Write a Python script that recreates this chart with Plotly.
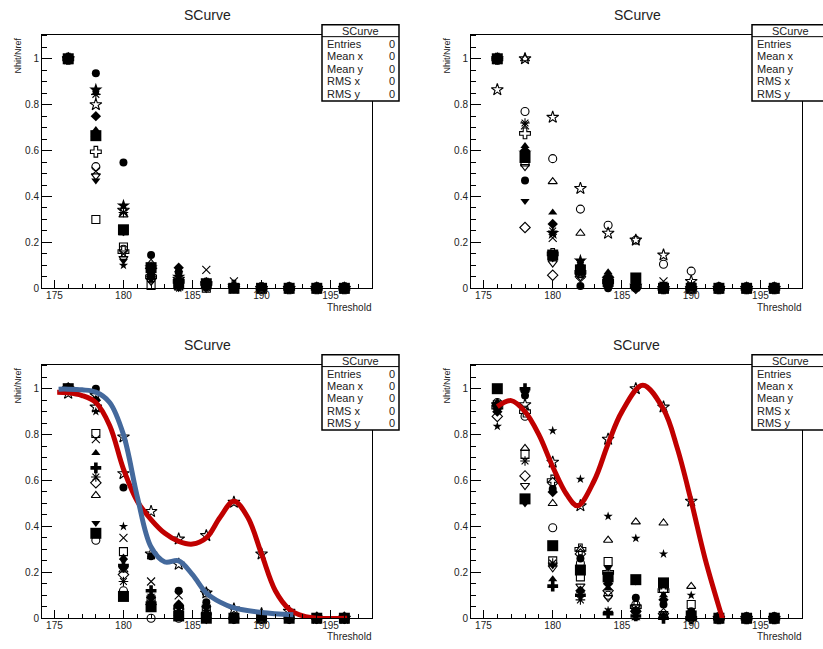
import plotly.graph_objects as go

W, H = 823, 649

THRESHOLDS = [176, 178, 180, 182, 184, 186, 188, 190, 192, 194, 196]
X_TICKS = [175, 180, 185, 190, 195]
X_TICK_TEXT = ["175", "180", "185", "190", "195"]
Y_TICKS = [0, 0.2, 0.4, 0.6, 0.8, 1.0]
Y_TICK_TEXT = ["0", "0.2", "0.4", "0.6", "0.8", "1"]
PLOT_TITLE = "SCurve"
X_TITLE = "Threshold"
Y_TITLE = "Nhit/Nref"
STAT_LABELS = ["Entries", "Mean x", "Mean y", "RMS x", "RMS y"]
STAT_VALUES = ["0", "0", "0", "0", "0"]

# ---- panel 1 (top left) : (marker, values at THRESHOLDS)
P1_SERIES = [
    ("circle",             [1, 0.937, 0.548, 0.145, 0.07, 0.02, 0.01, 0, 0, 0, 0]),
    ("star",               [1, 0.865, 0.36, 0.09, 0.05, 0.01, 0, 0, 0, 0, 0]),
    ("asterisk-open",      [1, 0.845, 0.33, 0.06, 0.03, 0.01, 0, 0, 0, 0, 0]),
    ("star-open",          [1, 0.80, 0.34, 0.08, 0.04, 0.02, 0.01, 0, 0, 0, 0]),
    ("diamond",            [1, 0.75, 0.25, 0.05, 0.09, 0.01, 0, 0, 0, 0, 0]),
    ("triangle-up",        [1, 0.69, 0.24, 0.07, 0.08, 0.03, 0, 0, 0, 0, 0]),
    ("triangle-up-open",   [1, 0.67, 0.32, 0.11, 0.02, 0.01, 0, 0, 0, 0, 0]),
    ("cross-open",         [1, 0.595, 0.16, 0.05, 0.03, 0.02, 0.01, 0, 0, 0, 0]),
    ("circle-open",        [1, 0.53, 0.17, 0.04, 0.02, 0.01, 0, 0, 0, 0, 0]),
    ("x-thin-open",        [1, 0.51, 0.15, 0.06, 0.01, 0.08, 0.03, 0, 0, 0, 0]),
    ("triangle-down-open", [1, 0.49, 0.13, 0.03, 0.01, 0, 0, 0, 0, 0, 0]),
    ("triangle-down",      [1, 0.47, 0.12, 0.05, 0, 0.01, 0, 0, 0, 0, 0]),
    ("square-open",        [1, 0.30, 0.18, 0.012, 0.01, 0, 0, 0, 0, 0, 0]),
    ("star-small",         [1, 0.86, 0.10, 0.04, 0, 0, 0, 0, 0, 0, 0]),
    ("square",             [1, 0.665, 0.255, 0.09, 0.02, 0.02, 0, 0, 0, 0, 0]),
]

# ---- panel 2 (top right)
P2_SERIES = [
    ("star-open",          [0.865, 1.0, 0.745, 0.435, 0.24, 0.21, 0.145, 0.03, 0, 0, 0]),
    ("triangle-up-open",   [1, 1.0, 0.465, 0.24, 0.06, 0.02, 0.01, 0, 0, 0, 0]),
    ("circle-open",        [1, 0.77, 0.565, 0.345, 0.275, 0.21, 0.105, 0.075, 0, 0, 0]),
    ("asterisk-open",      [1, 0.72, 0.25, 0.10, 0.04, 0.02, 0, 0, 0, 0, 0]),
    ("x-thin-open",        [1, 0.71, 0.22, 0.06, 0.02, 0.01, 0.03, 0.01, 0, 0, 0]),
    ("cross-open",         [1, 0.675, 0.15, 0.07, 0.03, 0.01, 0, 0, 0, 0, 0]),
    ("triangle-up",        [1, 0.62, 0.33, 0.10, 0.07, 0.03, 0.01, 0, 0, 0, 0]),
    ("diamond",            [1, 0.60, 0.28, 0.09, 0.05, 0.02, 0, 0, 0, 0, 0]),
    ("star",               [1, 0.59, 0.24, 0.12, 0.04, 0.01, 0, 0, 0, 0, 0]),
    ("square-open",        [1, 0.55, 0.14, 0.07, 0.02, 0.01, 0, 0, 0, 0, 0]),
    ("triangle-down-open", [1, 0.53, 0.11, 0.05, 0.01, 0, 0, 0, 0, 0, 0]),
    ("circle",             [1, 0.47, 0.15, 0.01, 0, 0, 0, 0, 0, 0, 0]),
    ("triangle-down",      [1, 0.38, 0.13, 0.115, 0, 0, 0.02, 0, 0, 0, 0]),
    ("diamond-open",       [1, 0.265, 0.057, 0.05, 0.02, 0, 0, 0, 0, 0, 0]),
    ("square",             [1, 0.57, 0.145, 0.08, 0.03, 0.045, 0, 0, 0, 0, 0]),
]

# ---- panel 3 (bottom left)
P3_SERIES = [
    ("star-open",          [0.98, 0.92, 0.63, 0.465, 0.345, 0.36, 0.505, 0.28, 0.03, 0, 0]),
    ("star-open",          [1.0, 0.97, 0.79, 0.28, 0.235, 0.11, 0.04, 0.02, 0.01, 0, 0]),
    ("circle",             [1, 1.0, 0.57, 0.27, 0.12, 0.07, 0, 0, 0, 0, 0]),
    ("square-open",        [1, 0.805, 0.29, 0.08, 0.03, 0.04, 0, 0, 0, 0, 0]),
    ("x-thin-open",        [1, 0.78, 0.35, 0.16, 0.10, 0.02, 0, 0, 0, 0, 0]),
    ("triangle-up",        [1, 0.72, 0.265, 0.06, 0.03, 0.01, 0, 0, 0, 0, 0]),
    ("cross",              [1, 0.655, 0.23, 0.12, 0.05, 0.02, 0, 0, 0, 0, 0]),
    ("asterisk-open",      [1, 0.615, 0.16, 0.05, 0.02, 0.01, 0, 0, 0, 0, 0]),
    ("diamond-open",       [1, 0.59, 0.19, 0.06, 0.04, 0, 0, 0, 0, 0, 0]),
    ("triangle-up-open",   [1, 0.535, 0.21, 0.04, 0.02, 0, 0, 0, 0, 0, 0]),
    ("triangle-down",      [1, 0.415, 0.25, 0.07, 0.01, 0, 0, 0, 0, 0, 0]),
    ("circle-open",        [1, 0.34, 0.12, 0, 0, 0.11, 0, 0, 0, 0, 0]),
    ("star-small",         [1, 0.90, 0.40, 0.10, 0.04, 0.03, 0, 0, 0, 0, 0]),
    ("diamond",            [1, 0.95, 0.22, 0.09, 0.06, 0.05, 0, 0, 0, 0, 0]),
    ("square",             [1, 0.37, 0.095, 0.05, 0.01, 0, 0, 0, 0, 0, 0]),
]
# fitted curves of panel 3 (knots)
P3_RED_X = [175.2, 176, 177, 178, 179, 180, 181, 182, 183, 184, 185, 186, 187, 188, 189, 190, 191, 192, 193, 194, 196.2]
P3_RED_Y = [0.984, 0.982, 0.97, 0.94, 0.84, 0.65, 0.51, 0.43, 0.37, 0.335, 0.323, 0.35, 0.44, 0.51, 0.44, 0.28, 0.12, 0.04, 0.01, 0.0, 0.0]
P3_BLUE_X = [175.3, 176, 177, 178, 179, 180, 181, 182, 183, 184, 185, 186, 187, 188, 190, 192.3]
P3_BLUE_Y = [0.998, 0.998, 0.995, 0.985, 0.94, 0.80, 0.53, 0.31, 0.245, 0.25, 0.19, 0.11, 0.07, 0.045, 0.025, 0.015]

# ---- panel 4 (bottom right)
P4_SERIES = [
    ("star-open",          [0.93, 0.93, 0.68, 0.49, 0.78, 1.0, 0.92, 0.51, 0, 0, 0]),
    ("star-small",         [0.836, 1.0, 0.817, 0.606, 0.444, 0.348, 0.28, 0.10, 0, 0, 0]),
    ("diamond-open",       [0.879, 0.62, 0.59, 0.28, 0.12, 0.03, 0.02, 0, 0, 0, 0]),
    ("cross",              [0.93, 1.0, 0.14, 0.10, 0.02, 0.01, 0, 0, 0, 0, 0]),
    ("circle",             [0.93, 0.97, 0.563, 0.26, 0.17, 0.089, 0.06, 0.03, 0, 0, 0]),
    ("circle-open",        [0.94, 0.88, 0.394, 0.24, 0.10, 0.06, 0.01, 0, 0, 0, 0]),
    ("triangle-up-open",   [0.93, 0.74, 0.50, 0.30, 0.34, 0.42, 0.415, 0.139, 0, 0, 0]),
    ("square-open",        [0.93, 0.714, 0.25, 0.18, 0.247, 0.04, 0.13, 0.06, 0, 0, 0]),
    ("asterisk-open",      [0.92, 0.685, 0.24, 0.08, 0.03, 0.01, 0.01, 0.01, 0, 0, 0]),
    ("triangle-down-open", [0.93, 0.578, 0.22, 0.14, 0.09, 0.05, 0.02, 0, 0, 0, 0]),
    ("triangle-down",      [0.93, 0.50, 0.23, 0.22, 0.22, 0.16, 0.01, 0.02, 0, 0, 0]),
    ("triangle-up",        [0.93, 0.99, 0.17, 0.12, 0.13, 0, 0.10, 0.02, 0, 0, 0]),
    ("cross-open",         [0.92, 0.90, 0.60, 0.30, 0.20, 0.05, 0.12, 0, 0, 0, 0]),
    ("diamond",            [0.90, 0.99, 0.55, 0.12, 0.15, 0.03, 0.08, 0.01, 0, 0, 0]),
    ("square",             [1.0, 0.52, 0.316, 0.21, 0.18, 0.168, 0.154, 0.01, 0, 0, 0]),
]
P4_RED_X = [176.0, 177.0, 178, 179, 180, 181, 181.8, 183, 184, 185, 186.5, 188, 189, 190, 191, 192.3]
P4_RED_Y = [0.922, 0.948, 0.90, 0.80, 0.66, 0.54, 0.49, 0.60, 0.76, 0.90, 1.015, 0.91, 0.74, 0.51, 0.26, -0.01]

RED = "#c00000"
BLUE = "#44699c"
FONT = "Liberation Sans"

# panel frames in pixels: (left, right, top, bottom)
FRAMES = [(42, 372, 35, 291), (471, 802, 35, 291), (42, 372, 368, 624), (471, 802, 368, 624)]
X_RANGE = [174.1, 198.0]
Y_RANGE = [0.0, 1.105]


def px(x):
    return x / W


def py(y):
    return 1 - y / H


SIZES = {"square": 11, "star-small": 7, "star": 10, "star-open": 9, "circle": 8,
         "circle-open": 8, "x-thin-open": 8, "asterisk-open": 8, "cross": 9, "cross-open": 9}

fig = go.Figure()

panels = [P1_SERIES, P2_SERIES, P3_SERIES, P4_SERIES]
for i, series in enumerate(panels):
    sfx = "" if i == 0 else str(i + 1)
    for sym, vals in series:
        real = "star" if sym == "star-small" else sym
        is_open = real.endswith("-open")
        fig.add_trace(go.Scatter(
            x=THRESHOLDS, y=vals, mode="markers",
            xaxis="x" + sfx, yaxis="y" + sfx, showlegend=False, cliponaxis=False,
            marker=dict(symbol=real, size=SIZES.get(sym, 8), color="black",
                        line=dict(color="black", width=1.1 if is_open else 0)),
        ))

fig.add_trace(go.Scatter(x=P3_RED_X, y=P3_RED_Y, mode="lines", xaxis="x3", yaxis="y3",
                         line=dict(color=RED, width=5, shape="spline", smoothing=1.0),
                         showlegend=False))
fig.add_trace(go.Scatter(x=P3_BLUE_X, y=P3_BLUE_Y, mode="lines", xaxis="x3", yaxis="y3",
                         line=dict(color=BLUE, width=5, shape="spline", smoothing=1.0),
                         showlegend=False))
fig.add_trace(go.Scatter(x=P4_RED_X, y=P4_RED_Y, mode="lines", xaxis="x4", yaxis="y4",
                         line=dict(color=RED, width=5, shape="spline", smoothing=1.0),
                         showlegend=False))

layout = dict(width=W, height=H, margin=dict(l=0, r=0, t=0, b=0), autosize=False,
              paper_bgcolor="white", plot_bgcolor="white",
              font=dict(family=FONT, color="#222"), showlegend=False)

shapes = []
annotations = []
STAT_BOXES = [(322, 399, 25, 102), (752, 830, 25, 102), (322, 399, 358, 434), (752, 830, 358, 434)]
TITLE_POS = [(207, 15), (637, 15), (207, 348), (636, 348)]

for i, (l, r, t, b) in enumerate(FRAMES):
    sfx = "" if i == 0 else str(i + 1)
    layout["xaxis" + sfx] = dict(
        domain=[px(l), px(r)], range=X_RANGE, anchor="y" + sfx,
        showgrid=False, zeroline=False, showline=True, mirror=True,
        linecolor="black", linewidth=1,
        tickmode="array", tickvals=X_TICKS, ticktext=X_TICK_TEXT,
        ticks="inside", ticklen=8, tickcolor="black", tickwidth=1,
        ticklabelstandoff=-2,
        tickfont=dict(size=10, color="#222", family=FONT),
        minor=dict(ticks="inside", ticklen=4, dtick=1, tick0=0, tickcolor="black", showgrid=False),
    )
    layout["yaxis" + sfx] = dict(
        domain=[py(b), py(t)], range=Y_RANGE, anchor="x" + sfx,
        showgrid=False, zeroline=False, showline=True, mirror=True,
        linecolor="black", linewidth=1,
        tickmode="array", tickvals=Y_TICKS, ticktext=Y_TICK_TEXT,
        ticks="inside", ticklen=10, tickcolor="black", tickwidth=1,
        tickfont=dict(size=10, color="#222", family=FONT),
        minor=dict(ticks="inside", ticklen=5, dtick=0.05, tick0=0, tickcolor="black", showgrid=False),
    )
    # title
    tx, ty = TITLE_POS[i]
    annotations.append(dict(text=PLOT_TITLE, x=px(tx), y=py(ty), xref="paper", yref="paper",
                            showarrow=False, xanchor="center", yanchor="middle",
                            font=dict(size=14, color="#222", family=FONT)))
    # axis titles
    annotations.append(dict(text=X_TITLE, x=px(r), y=py(min(b + 26, H)), xref="paper", yref="paper",
                            showarrow=False, xanchor="right", yanchor="bottom", borderpad=0,
                            font=dict(size=10, color="#222", family=FONT)))
    annotations.append(dict(text=Y_TITLE, x=px(l - 24), y=py(t + 21), xref="paper", yref="paper",
                            showarrow=False, xanchor="center", yanchor="middle", textangle=-90,
                            font=dict(size=9, color="#222", family=FONT)))
    # stat box
    bx0, bx1, by0, by1 = STAT_BOXES[i]
    shapes.append(dict(type="rect", xref="paper", yref="paper", layer="above",
                       x0=px(bx0), x1=px(bx1), y0=py(by1), y1=py(by0),
                       fillcolor="white", line=dict(color="black", width=1.5)))
    shapes.append(dict(type="line", xref="paper", yref="paper", layer="above",
                       x0=px(bx0), x1=px(bx1), y0=py(by0 + 12), y1=py(by0 + 12),
                       line=dict(color="black", width=1)))
    annotations.append(dict(text=PLOT_TITLE, x=px((322 + 399) / 2 + (bx0 - 322)), y=py(by0 + 6.5),
                            xref="paper", yref="paper", showarrow=False,
                            xanchor="center", yanchor="middle",
                            font=dict(size=11, color="#222", family=FONT)))
    for k, (lab, val) in enumerate(zip(STAT_LABELS, STAT_VALUES)):
        yy = by0 + 19 + k * 12.6
        annotations.append(dict(text=lab, x=px(bx0 + 3), y=py(yy), xref="paper", yref="paper",
                                showarrow=False, xanchor="left", yanchor="middle",
                                font=dict(size=11, color="#222", family=FONT)))
        if bx1 <= W:
            annotations.append(dict(text=val, x=px(bx1 - 2), y=py(yy), xref="paper", yref="paper",
                                    showarrow=False, xanchor="right", yanchor="middle",
                                    font=dict(size=11, color="#222", family=FONT)))

layout["shapes"] = shapes
layout["annotations"] = annotations
fig.update_layout(**layout)
fig.write_html("out.html", config={"displayModeBar": False},
               post_script="document.body.style.margin='0';document.body.style.overflow='hidden';")
